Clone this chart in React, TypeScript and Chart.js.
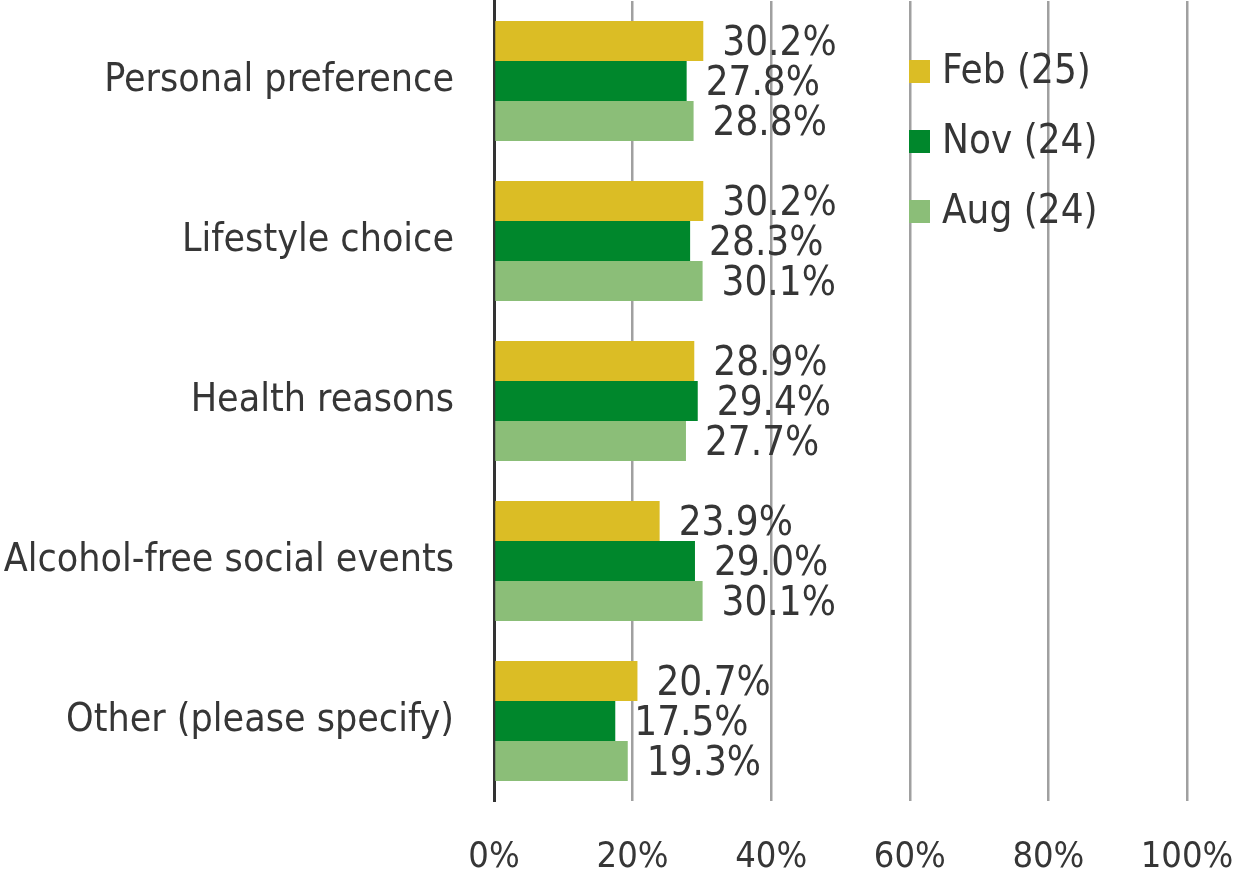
import React, { useEffect, useRef } from "react";
import { Chart, registerables } from "chart.js";

Chart.register(...registerables);

const categories = [
  "Personal preference",
  "Lifestyle choice",
  "Health reasons",
  "Alcohol-free social events",
  "Other (please specify)",
];
const seriesNames = ["Feb (25)", "Nov (24)", "Aug (24)"];
const febValues = [30.2, 30.2, 28.9, 23.9, 20.7];
const novValues = [27.8, 28.3, 29.4, 29.0, 17.5];
const augValues = [28.8, 30.1, 27.7, 30.1, 19.3];
const seriesColors = ["#DBBD25", "#00872C", "#8BBE78"];
const xTickValues = [0, 20, 40, 60, 80, 100];

const FONT = "'DejaVu Sans Condensed', 'DejaVu Sans', sans-serif";
const TEXT = "#363636";

const valueLabels = {
  id: "valueLabels",
  afterDatasetsDraw(chart: any) {
    const ctx = chart.ctx;
    ctx.save();
    ctx.font = `40px ${FONT}`;
    ctx.fillStyle = TEXT;
    ctx.textAlign = "left";
    ctx.textBaseline = "middle";
    chart.data.datasets.forEach((ds: any, di: number) => {
      const meta = chart.getDatasetMeta(di);
      meta.data.forEach((bar: any, i: number) => {
        ctx.fillText(ds.data[i].toFixed(1) + "%", bar.x + 19, bar.y + 4);
      });
    });
    ctx.restore();
  },
};

const customLegend = {
  id: "customLegend",
  afterDraw(chart: any) {
    const ctx = chart.ctx;
    const area = chart.chartArea;
    ctx.save();
    ctx.font = `40px ${FONT}`;
    ctx.textAlign = "left";
    ctx.textBaseline = "middle";
    chart.data.datasets.forEach((ds: any, i: number) => {
      const x = area.left + 415;
      const y = area.top + 59 + i * 70;
      ctx.fillStyle = ds.backgroundColor;
      ctx.fillRect(x, y, 21, 23);
      ctx.fillStyle = TEXT;
      ctx.fillText(ds.label, x + 33, y + 13);
    });
    ctx.restore();
  },
};

export default function App() {
  const ref = useRef<HTMLCanvasElement>(null);
  useEffect(() => {
    if (!ref.current) return;
    const chart = new Chart(ref.current, {
      type: "bar",
      data: {
        labels: categories,
        datasets: [
          { label: seriesNames[0], data: febValues, backgroundColor: seriesColors[0] },
          { label: seriesNames[1], data: novValues, backgroundColor: seriesColors[1] },
          { label: seriesNames[2], data: augValues, backgroundColor: seriesColors[2] },
        ],
      },
      options: {
        indexAxis: "y",
        responsive: false,
        animation: false,
        devicePixelRatio: 1,
        layout: { padding: { left: 0, right: 56, top: 1, bottom: 0 } },
        datasets: { bar: { categoryPercentage: 0.75, barPercentage: 1.0 } },
        plugins: { legend: { display: false }, tooltip: { enabled: false } },
        scales: {
          x: {
            min: 0,
            max: 100,
            afterBuildTicks: (scale: any) => {
              scale.ticks = xTickValues.map((v) => ({ value: v }));
            },
            afterFit: (scale: any) => {
              scale.height = 76;
              scale.paddingLeft = 0;
              scale.paddingRight = 0;
            },
            grid: { color: "#A0A0A0", lineWidth: 2.5, drawTicks: false },
            border: { display: false },
            ticks: {
              callback: (v: any) => v + "%",
              font: { family: FONT, size: 36 },
              color: TEXT,
              padding: 35,
              maxRotation: 0,
            },
          },
          y: {
            grid: { display: false, drawTicks: false },
            border: { display: true, color: "#333333", width: 3 },
            afterFit: (scale: any) => {
              scale.width = 494;
              scale.paddingTop = 0;
              scale.paddingBottom = 0;
            },
            ticks: {
              font: { family: FONT, size: 39 },
              color: TEXT,
              padding: 40,
            },
          },
        },
      } as any,
      plugins: [valueLabels, customLegend],
    });
    return () => chart.destroy();
  }, []);
  return (
    <div style={{ position: "fixed", left: 0, top: 0, width: 1243, height: 877, background: "#fff" }}>
      <canvas ref={ref} width={1243} height={877} />
    </div>
  );
}
